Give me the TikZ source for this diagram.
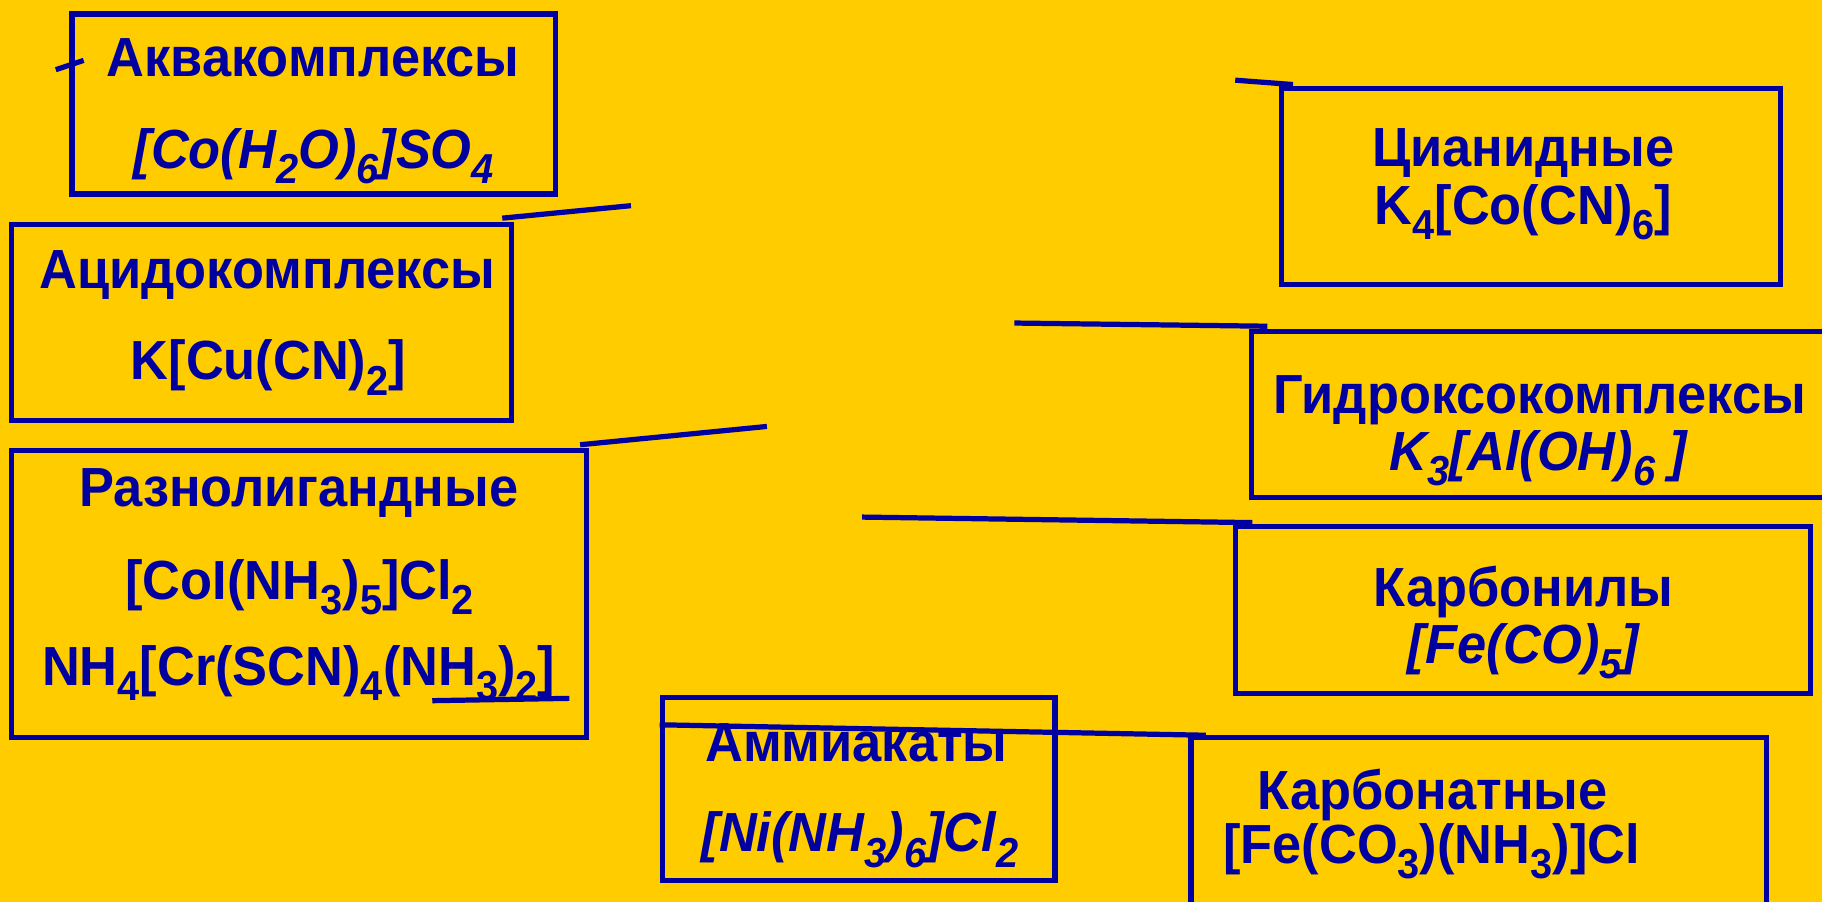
\documentclass[tikz,border=0pt]{standalone}
\usepackage{fontspec}
\setmainfont{Liberation Sans}[FakeStretch=0.95]
\usepackage{xcolor}
\usepackage{tikz}
\usetikzlibrary{calc}
\definecolor{slideGold}{RGB}{255,204,0}
\definecolor{slideBlue}{RGB}{0,0,160}
\tikzstyle{link} = [slideBlue, line width=0.9mm]
\newcommand{\lowidx}[1]{\raisebox{-7.5pt}{\fontsize{20.5}{20.5}\selectfont #1}}

\begin{document}
\begin{tikzpicture}[
				x=0.2mm, y=-0.2mm,
				box/.style={draw=slideBlue, line width=0.9mm, inner sep=0pt},
				head/.style={anchor=base, text=slideBlue, inner sep=0pt, font=\fontsize{27}{30}\selectfont\bfseries},
				formula/.style={head},
				iformula/.style={head, font=\fontsize{27}{30}\selectfont\bfseries\itshape}
				]
				
				\useasboundingbox (0,0) rectangle (1568,776);
				\fill[slideGold] (0,0) rectangle (1568,776);
				\clip (0,0) rectangle (1568,776);
				
				% left column
				\node (aqua) at (270,89.5) [box, minimum width=83.2mm, minimum height=31mm] {};
				\node (aquaName) at (269.5,66) [head] {Аквакомплексы};
				\node (aquaFormula) at (270,145) [iformula] {[Co(H\lowidx{2}O)\lowidx{6}]SO\lowidx{4}};
				
				\node (acido) at (225,277.5) [box, minimum width=86mm, minimum height=33.8mm] {};
				\node (acidoName) at (230,248) [head] {Ацидокомплексы};
				\node (acidoFormula) at (231,327) [formula] {K[Cu(CN)\lowidx{2}]};
				
				\node (mixed) at (257.5,511.5) [box, minimum width=99mm, minimum height=49.4mm] {};
				\node (mixedName) at (257,436) [head] {Разнолигандные};
				\node (mixedFormulaA) at (258,516) [formula] {[CoI(NH\lowidx{3})\lowidx{5}]Cl\lowidx{2}};
				\node (mixedFormulaB) at (257,590) [formula] {NH\lowidx{4}[Cr(SCN)\lowidx{4}(NH\lowidx{3})\lowidx{2}]};
				
				\node (ammine) at (739,679) [box, minimum width=67.6mm, minimum height=31.6mm] {};
				\node (ammineName) at (737,655) [head] {Аммиакаты};
				\node (ammineFormula) at (740,733) [iformula] {[Ni(NH\lowidx{3})\lowidx{6}]Cl\lowidx{2}};
				
				% right column
				\node (cyanide) at (1317.5,160.5) [box, minimum width=85.8mm, minimum height=33.8mm] {};
				\node (cyanideName) at (1311,143) [head] {Цианидные};
				\node (cyanideFormula) at (1311,193) [formula] {K\lowidx{4}[Co(CN)\lowidx{6}]};
				
				\node (hydroxo) at (1338.5,356.5) [box, minimum width=104.6mm, minimum height=28.6mm] {};
				\node (hydroxoName) at (1325,356) [head] {Гидроксокомплексы};
				\node (hydroxoFormula) at (1324,405) [iformula] {K\lowidx{3}[Al(OH)\lowidx{6} ]};
				
				\node (carbonyl) at (1310.5,525) [box, minimum width=99mm, minimum height=28.8mm] {};
				\node (carbonylName) at (1311,522) [head] {Карбонилы};
				\node (carbonylFormula) at (1311,571) [iformula] {[Fe(CO)\lowidx{5}]};
				
				\node (carbonate) at (1272.5,727.5) [box, minimum width=99mm, minimum height=37mm] {};
				\node (carbonateName) at (1233,697) [head] {Карбонатные};
				\node (carbonateFormula) at (1232,743) [formula] {[Fe(CO\lowidx{3})(NH\lowidx{3})]Cl};
				
				% loose ends of the links
				\coordinate (tickStart) at (48,60);
				\coordinate (tickEnd) at (72,52);
				\coordinate (acidoEnd) at (543,177);
				\coordinate (mixedEnd) at (660,367);
				\coordinate (strokeStart) at (372,603);
				\coordinate (strokeEnd) at (490,601);
				\coordinate (cyanideEnd) at (1063,69);
				\coordinate (hydroxoEnd) at (873,278);
				\coordinate (carbonylEnd) at (742,445);
				
				\draw[link] (tickStart) -- (tickEnd);
				\draw[link] ($(acido.north east)+(-10,-3)$) -- (acidoEnd);
				\draw[link] ($(mixed.north east)+(-8,-3)$) -- (mixedEnd);
				\draw[link] (strokeStart) -- (strokeEnd);
				\draw[link] ($(ammine.north west)+(0,26)$) -- ($(carbonate.north west)+(15,0)$);
				\draw[link] ($(carbonyl.north west)+(17,-1)$) -- (carbonylEnd);
				\draw[link] ($(hydroxo.north west)+(16,-2)$) -- (hydroxoEnd);
				\draw[link] ($(cyanide.north west)+(12,-1)$) -- (cyanideEnd);
			\end{tikzpicture}
\end{document}
